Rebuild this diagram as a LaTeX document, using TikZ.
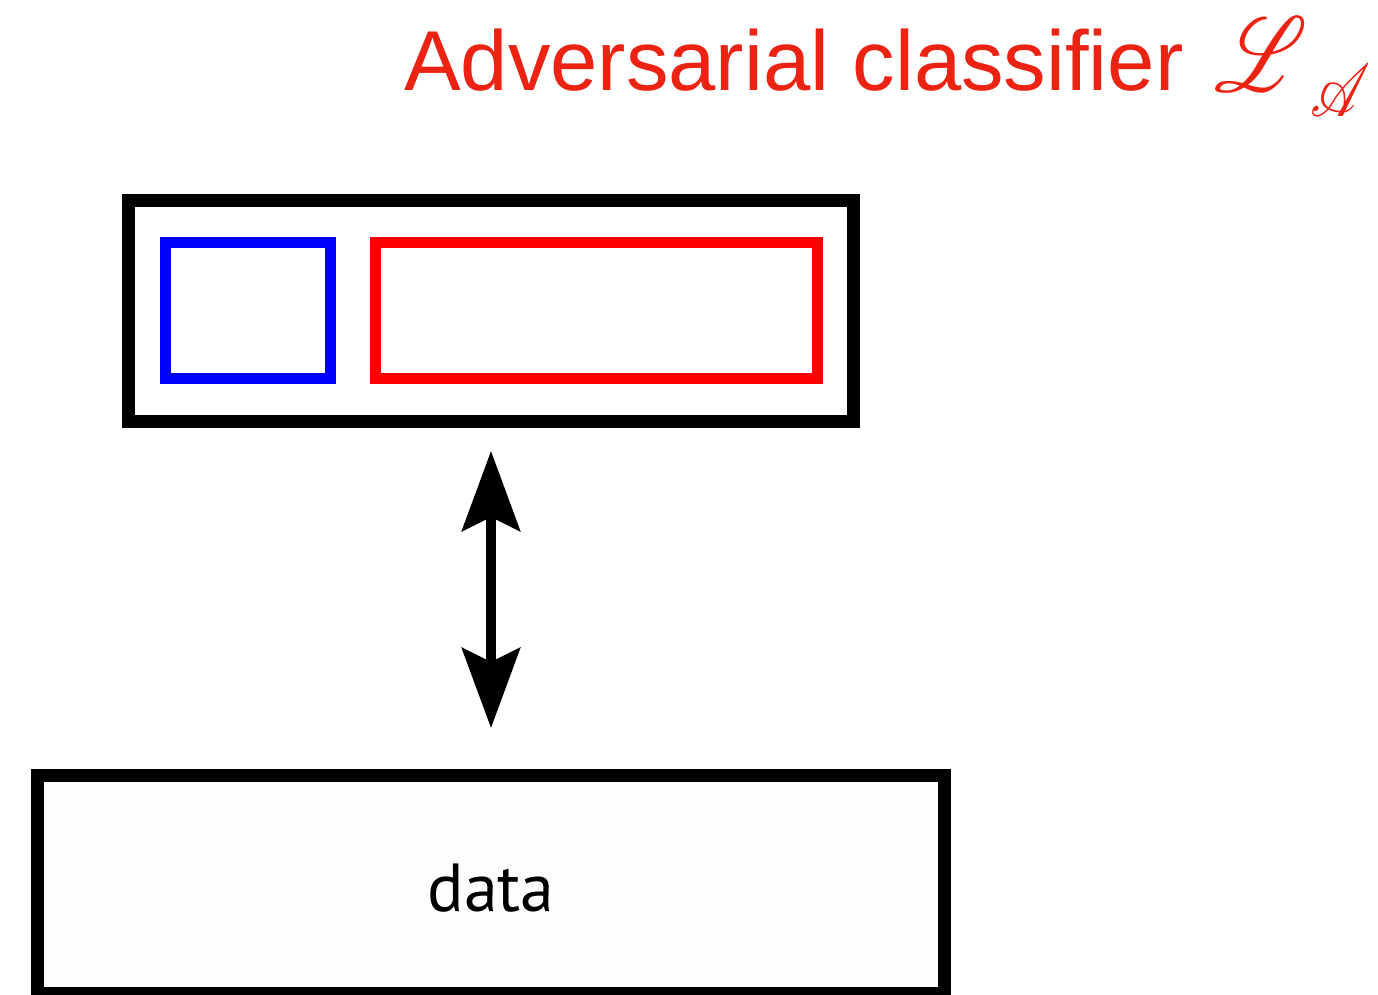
\documentclass[tikz,border=0pt]{standalone}
\usepackage{fontspec}
\usepackage{mathrsfs}
\usepackage{graphicx}
\setmainfont{Liberation Sans}
\newfontfamily\datafont{PT Sans}
\usetikzlibrary{arrows.meta}
\definecolor{titlered}{RGB}{236,34,18}
\tikzset{
  box/.style={draw, rectangle, inner sep=0pt, outer sep=0pt, fill=white},
  bigtip/.tip={Stealth[length=80pt,width=58pt,inset=14pt]},
}
\begin{document}
\begin{tikzpicture}[x=1pt,y=-1pt]
\useasboundingbox (0,0) rectangle (1378,994);
% title
\node[anchor=base west, inner sep=0pt, text=titlered, font=\fontsize{85}{100}\selectfont] (title) at (404,90) {Adversarial classifier};
\node[anchor=south west, inner sep=0pt, text=titlered] (calL) at (1214,92) {\resizebox*{93pt}{74pt}{$\mathscr{L}$}};
\node[anchor=south west, inner sep=0pt, text=titlered] (calA) at (1310,117) {\resizebox*{60pt}{52pt}{$\mathscr{A}$}};
% top box
\node[box, line width=13pt, minimum width=725pt, minimum height=221pt] (clf) at (491,311) {};
\node[box, draw=blue, line width=11pt, minimum width=165pt, minimum height=136pt] (blueb) at (248,310.5) {};
\node[box, draw=red, line width=11pt, minimum width=442pt, minimum height=136pt] (redb) at (596.5,310.5) {};
% data box
\node[box, line width=13pt, minimum width=907pt, minimum height=218pt, fill={rgb,255:red,253;green,253;blue,251}] (data) at (491,884.5) {};
\node[inner sep=0pt, font=\datafont\fontsize{68}{80}\selectfont] (datalabel) at (491,888) {data};
% arrow
\draw[line width=9.5pt, bigtip-bigtip, shorten <=29.5pt, shorten >=47.5pt] (clf.south) -- (data.north);
\end{tikzpicture}
\end{document}
